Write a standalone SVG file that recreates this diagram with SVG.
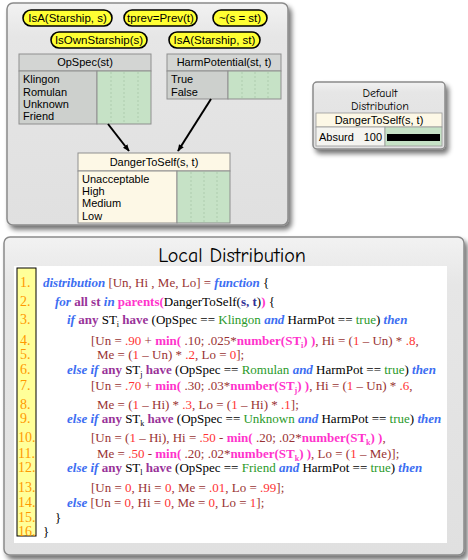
<svg xmlns="http://www.w3.org/2000/svg" width="468" height="560" viewBox="0 0 468 560">
<defs>
<filter id="sh" x="-10%" y="-10%" width="125%" height="125%">
<feGaussianBlur in="SourceAlpha" stdDeviation="2.5"/>
<feOffset dx="3" dy="4" result="b"/>
<feComponentTransfer><feFuncA type="linear" slope="0.55"/></feComponentTransfer>
<feMerge><feMergeNode/><feMergeNode in="SourceGraphic"/></feMerge>
</filter>
<linearGradient id="pg" x1="0" y1="0" x2="0" y2="1">
<stop offset="0" stop-color="#f2f2f2"/><stop offset="0.15" stop-color="#e6e6e6"/><stop offset="1" stop-color="#e0e0e0"/>
</linearGradient>
<marker id="ah" viewBox="0 0 10 10" refX="9" refY="5" markerWidth="7" markerHeight="7" orient="auto" markerUnits="userSpaceOnUse">
<path d="M0,1 L10,5 L0,9 Z" fill="#000"/>
</marker>
<style>
.panel{fill:url(#pg);stroke:#8a8a8a;stroke-width:1.5}
.pill{fill:#ffff33;stroke:#000;stroke-width:1.6}
.ptx{font-family:"Liberation Sans",Arial,sans-serif;font-size:11.5px;fill:#000;text-anchor:middle}
.sx{font-family:"Liberation Sans",Arial,sans-serif;font-size:11px;fill:#000}
.hd{fill:#d3d5d3;stroke:#8f8f8f;stroke-width:1}
.bd{fill:#cdd0cd;stroke:#8f8f8f;stroke-width:1}
.cr{fill:#fdf8e6;stroke:#8f8f8f;stroke-width:1}
.gv{fill:#c6e2c6;stroke:#8f8f8f;stroke-width:1}
.dl{stroke:#a8c8a8;stroke-width:0.8;stroke-dasharray:2,2}
.con{stroke:#000;stroke-width:2;fill:none}
.cm{font-family:"Comic Sans MS","Comic Neue","DejaVu Sans",sans-serif;fill:#000;text-anchor:middle}
.code{font-family:"Liberation Serif","Times New Roman",serif;font-size:13px;fill:#000}
.ln{font-family:"Liberation Serif","Times New Roman",serif;font-size:14px;fill:#ff9900}
.kw{fill:#3d6ef2;font-style:italic;font-weight:bold}
.pk{fill:#993399;font-weight:bold}
.dr{fill:#993333}
.nm{fill:#ff3333}
.fn{fill:#ff33cc;font-weight:bold}
.gr{fill:#2a9a2a}
.nv{fill:#333399;font-weight:bold}
</style>
</defs>

<g id="top-panel">
<rect x="7" y="3" width="281" height="222" rx="6" class="panel" filter="url(#sh)"/>
</g>

<g id="pill-isa-s"><rect x="23" y="10" width="89" height="16" rx="8" class="pill"/><text x="67.5" y="22" class="ptx">IsA(Starship, s)</text></g>
<g id="pill-tprev"><rect x="124" y="10" width="73" height="16" rx="8" class="pill"/><text x="160.5" y="22" class="ptx">tprev=Prev(t)</text></g>
<g id="pill-neq"><rect x="213" y="10" width="54" height="16" rx="8" class="pill"/><text x="240" y="22" class="ptx">~(s = st)</text></g>
<g id="pill-isown"><rect x="51" y="32" width="96" height="16" rx="8" class="pill"/><text x="99" y="44" class="ptx">IsOwnStarship(s)</text></g>
<g id="pill-isa-st"><rect x="169" y="32" width="91" height="16" rx="8" class="pill"/><text x="214.5" y="44" class="ptx">IsA(Starship, st)</text></g>

<g id="opspec">
<rect x="19" y="54" width="132" height="17" class="hd"/>
<text x="85" y="66" class="sx" text-anchor="middle">OpSpec(st)</text>
<rect x="19" y="71" width="78" height="53" class="bd"/>
<rect x="97" y="71" width="54" height="53" class="gv"/>
<line x1="111" y1="72" x2="111" y2="123" class="dl"/><line x1="124" y1="72" x2="124" y2="123" class="dl"/><line x1="138" y1="72" x2="138" y2="123" class="dl"/>
<text x="23" y="83" class="sx">Klingon</text>
<text x="23" y="96" class="sx">Romulan</text>
<text x="23" y="108" class="sx">Unknown</text>
<text x="23" y="120" class="sx">Friend</text>
</g>

<g id="harmpotential">
<rect x="167" y="54" width="114" height="17" class="hd"/>
<text x="224" y="66" class="sx" text-anchor="middle">HarmPotential(st, t)</text>
<rect x="167" y="71" width="61" height="28" class="bd"/>
<rect x="228" y="71" width="53" height="28" class="gv"/>
<line x1="242" y1="72" x2="242" y2="98" class="dl"/><line x1="255" y1="72" x2="255" y2="98" class="dl"/><line x1="268" y1="72" x2="268" y2="98" class="dl"/>
<text x="171" y="83" class="sx">True</text>
<text x="171" y="96" class="sx">False</text>
</g>

<g id="dangertoself">
<rect x="78" y="153" width="152" height="18" class="cr"/>
<text x="154" y="166" class="sx" text-anchor="middle">DangerToSelf(s, t)</text>
<rect x="78" y="171" width="99" height="52" class="cr"/>
<rect x="177" y="171" width="53" height="52" class="gv"/>
<line x1="191" y1="172" x2="191" y2="222" class="dl"/><line x1="204" y1="172" x2="204" y2="222" class="dl"/><line x1="217" y1="172" x2="217" y2="222" class="dl"/>
<text x="82" y="183" class="sx">Unacceptable</text>
<text x="82" y="195" class="sx">High</text>
<text x="82" y="207" class="sx">Medium</text>
<text x="82" y="220" class="sx">Low</text>
</g>

<g id="connectors">
<line x1="108" y1="124" x2="129" y2="151" class="con" marker-end="url(#ah)"/>
<line x1="211" y1="99" x2="178" y2="151" class="con" marker-end="url(#ah)"/>
</g>

<g id="default-distribution">
<rect x="313" y="82" width="132" height="67" rx="4" class="panel" filter="url(#sh)"/>
<text x="380" y="97" class="cm" font-size="12">Default</text>
<text x="380" y="110" class="cm" font-size="12">Distribution</text>
<rect x="316" y="113" width="126" height="14" fill="#fdf8e6" stroke="#9a9a9a" stroke-width="0.8"/>
<text x="379" y="124" class="sx" font-size="9.5" text-anchor="middle">DangerToSelf(s, t)</text>
<rect x="316" y="127" width="69" height="19" fill="#f4f4f0" stroke="#9a9a9a" stroke-width="0.8"/>
<rect x="385" y="127" width="57" height="19" fill="#c6e2c6" stroke="#9a9a9a" stroke-width="0.8"/>
<rect x="387" y="134" width="53" height="7" fill="#000"/>
<text x="319" y="141" class="sx" font-size="11">Absurd</text>
<text x="382" y="141" class="sx" font-size="11" text-anchor="end">100</text>
</g>

<g id="local-distribution">
<rect x="4" y="237" width="460" height="318" rx="6" class="panel" filter="url(#sh)"/>
<text x="232" y="262" class="cm" font-size="20">Local Distribution</text>
<rect x="14" y="266" width="433" height="277" fill="#fff"/>
<rect x="17" y="268" width="19" height="268" fill="#ffff99" stroke="#000" stroke-width="1"/>
<g class="ln">
<text x="20" y="287">1.</text><text x="20" y="306">2.</text><text x="20" y="324">3.</text><text x="20" y="345">4.</text>
<text x="20" y="359">5.</text><text x="20" y="374">6.</text><text x="20" y="390">7.</text><text x="20" y="409">8.</text>
<text x="20" y="423">9.</text><text x="18" y="442">10.</text><text x="18" y="458">11.</text><text x="18" y="472">12.</text>
<text x="18" y="492">13.</text><text x="18" y="507">14.</text><text x="18" y="522">15.</text><text x="18" y="536">16.</text>
</g>
<g class="code" xml:space="preserve">
<text x="43" y="287"><tspan class="kw">distribution</tspan> <tspan class="dr">[Un, Hi , Me, Lo] = </tspan><tspan class="kw">function</tspan> {</text>
<text x="55" y="306"><tspan class="kw">for</tspan> <tspan class="pk">all st</tspan> <tspan class="kw">in</tspan> <tspan class="fn">parents(</tspan>DangerToSelf(<tspan class="nv">s, t</tspan>)<tspan class="fn">)</tspan> {</text>
<text x="67" y="324"><tspan class="kw">if</tspan> <tspan class="pk">any</tspan> ST<tspan dy="3" font-size="8">i</tspan><tspan dy="-3"> </tspan><tspan class="pk">have</tspan> (OpSpec == <tspan class="gr">Klingon</tspan> <tspan class="kw">and</tspan> HarmPot == <tspan class="gr">true</tspan>) <tspan class="kw">then</tspan></text>
<text x="91" y="345" class="dr">[Un = <tspan class="nm">.90</tspan> + <tspan class="fn">min(</tspan> .10; .025*<tspan class="fn">number(ST<tspan dy="3" font-size="8">i</tspan><tspan dy="-3">) )</tspan></tspan>, Hi = (<tspan class="nm">1</tspan> – Un) * <tspan class="nm">.8</tspan>,</text>
<text x="97" y="359" class="dr">Me = (<tspan class="nm">1</tspan> – Un) * <tspan class="nm">.2</tspan>, Lo = <tspan class="nm">0</tspan>];</text>
<text x="67" y="374"><tspan class="kw">else if</tspan> <tspan class="pk">any</tspan> ST<tspan dy="3" font-size="8">j</tspan><tspan dy="-3"> </tspan><tspan class="pk">have</tspan> (OpSpec == <tspan class="gr">Romulan</tspan> <tspan class="kw">and</tspan> HarmPot == <tspan class="gr">true</tspan>) <tspan class="kw">then</tspan></text>
<text x="91" y="390" class="dr">[Un = <tspan class="nm">.70</tspan> + <tspan class="fn">min(</tspan> .30; .03*<tspan class="fn">number(ST<tspan dy="3" font-size="8">j</tspan><tspan dy="-3">) )</tspan></tspan>, Hi = (<tspan class="nm">1</tspan> – Un) * <tspan class="nm">.6</tspan>,</text>
<text x="97" y="409" class="dr">Me = (<tspan class="nm">1</tspan> – Hi) * <tspan class="nm">.3</tspan>, Lo = (<tspan class="nm">1</tspan> – Hi) * <tspan class="nm">.1</tspan>];</text>
<text x="67" y="423"><tspan class="kw">else if</tspan> <tspan class="pk">any</tspan> ST<tspan dy="3" font-size="8">k</tspan><tspan dy="-3"> </tspan><tspan class="pk">have</tspan> (OpSpec == <tspan class="gr">Unknown</tspan> <tspan class="kw">and</tspan> HarmPot == <tspan class="gr">true</tspan>) <tspan class="kw">then</tspan></text>
<text x="91" y="442" class="dr">[Un = (<tspan class="nm">1</tspan> – Hi), Hi = <tspan class="nm">.50</tspan> - <tspan class="fn">min(</tspan> .20; .02*<tspan class="fn">number(ST<tspan dy="3" font-size="8">k</tspan><tspan dy="-3">) )</tspan></tspan>,</text>
<text x="97" y="458" class="dr">Me = <tspan class="nm">.50</tspan> - <tspan class="fn">min(</tspan> .20; .02*<tspan class="fn">number(ST<tspan dy="3" font-size="8">k</tspan><tspan dy="-3">) )</tspan></tspan>, Lo = (<tspan class="nm">1</tspan> – Me)];</text>
<text x="67" y="472"><tspan class="kw">else if</tspan> <tspan class="pk">any</tspan> ST<tspan dy="3" font-size="8">l</tspan><tspan dy="-3"> </tspan><tspan class="pk">have</tspan> (OpSpec == <tspan class="gr">Friend</tspan> <tspan class="kw">and</tspan> HarmPot == <tspan class="gr">true</tspan>) <tspan class="kw">then</tspan></text>
<text x="91" y="492" class="dr">[Un = <tspan class="nm">0</tspan>, Hi = <tspan class="nm">0</tspan>, Me = <tspan class="nm">.01</tspan>, Lo = <tspan class="nm">.99</tspan>];</text>
<text x="67" y="507"><tspan class="kw">else</tspan> <tspan class="dr">[Un = <tspan class="nm">0</tspan>, Hi = <tspan class="nm">0</tspan>, Me = <tspan class="nm">0</tspan>, Lo = <tspan class="nm">1</tspan>];</tspan></text>
<text x="55" y="522">}</text>
<text x="43" y="536">}</text>
</g>
</g>
</svg>
